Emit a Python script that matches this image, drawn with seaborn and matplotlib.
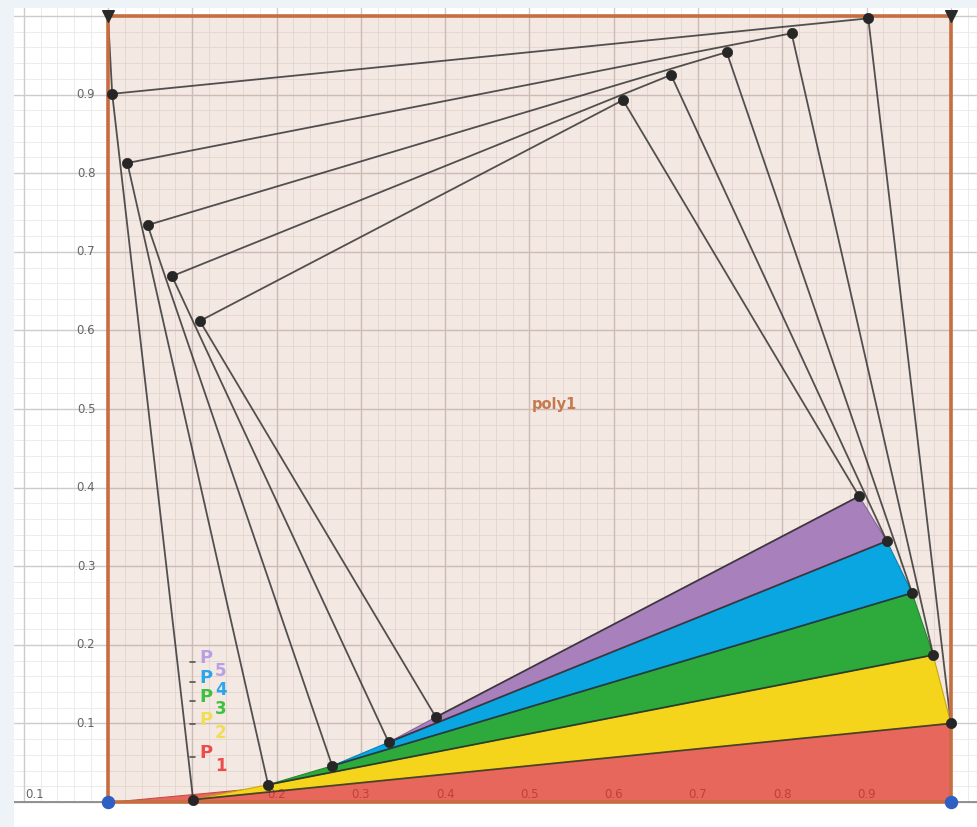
import matplotlib
matplotlib.use('Agg')
import numpy as np
import pandas as pd
import matplotlib.pyplot as plt
import seaborn as sns

sns.set_theme(style="white")
plt.rcParams['font.family'] = ['DejaVu Sans']

# outer square (poly1)
square_x = [0.0, 1.0, 1.0, 0.0]
square_y = [0.0, 0.0, 1.0, 1.0]

# vertices of the nested squares (k = 1..5)
bottom_x = [0.101, 0.190, 0.266, 0.333, 0.389]
bottom_y = [0.003, 0.022, 0.046, 0.076, 0.108]
right_x = [1.000, 0.979, 0.954, 0.924, 0.891]
right_y = [0.100, 0.187, 0.266, 0.332, 0.389]
top_x = [0.902, 0.811, 0.734, 0.668, 0.611]
top_y = [0.997, 0.978, 0.954, 0.925, 0.893]
left_x = [0.005, 0.023, 0.047, 0.076, 0.109]
left_y = [0.901, 0.813, 0.734, 0.669, 0.612]

band_names = ["P1", "P2", "P3", "P4", "P5"]
band_colors = ["#e8675c", "#f5d41c", "#2eaa3c", "#0aa6e2", "#a880bb"]
band_edges = ["#c05045", "#c9a612", "#23862f", "#0a82b2", "#85649a"]
label_colors = ["#ee4b4b", "#f1dc55", "#40c040", "#2ba6ea", "#b9a0e2"]

xtick_vals = [0.2, 0.3, 0.4, 0.5, 0.6, 0.7, 0.8, 0.9]
ytick_vals = [0.1, 0.2, 0.3, 0.4, 0.5, 0.6, 0.7, 0.8, 0.9]

fig = plt.figure(figsize=(9.77, 8.27), dpi=100, facecolor="#eef3f8")
ax = fig.add_axes([14 / 977, 0, 963 / 977, 819 / 827])
ax.set_facecolor("white")
ax.set_xlim(-0.1115, 1.031)
ax.set_ylim(-0.0318, 1.0102)
ax.set_xticks([])
ax.set_yticks([])
for sp in ax.spines.values():
    sp.set_visible(False)

# grid (only above the x axis)
for v in np.arange(-0.10, 1.04, 0.02):
    ax.plot([v, v], [0, 1.02], color="#ebe8e8", lw=0.6, zorder=0)
for v in np.arange(0.0, 1.02, 0.02):
    ax.plot([-0.112, 1.04], [v, v], color="#ebe8e8", lw=0.6, zorder=0)
for v in np.arange(-0.1, 1.04, 0.1):
    ax.plot([v, v], [0, 1.02], color="#d0cbcb", lw=1.0, zorder=0.1)
for v in np.arange(0.0, 1.02, 0.1):
    ax.plot([-0.112, 1.04], [v, v], color="#d0cbcb", lw=1.0, zorder=0.1)
ax.plot([-0.112, 1.04], [0, 0], color="#8a8a8a", lw=1.3, zorder=0.2)

# tick labels
for v in ytick_vals:
    ax.text(-0.015, v, f"{v:.1f}", ha="right", va="center", fontsize=8.5, color="#666666", zorder=0.3)
ax.text(-0.087, 0.009, "0.1", ha="center", va="center", fontsize=8.5, color="#666666", zorder=0.3)

# poly1 fill
ax.fill(square_x, square_y, color="#b87050", alpha=0.16, lw=0, zorder=0.5)

# coloured bands between successive squares, near the lower right corner
bx = [0.0] + bottom_x
by = [0.0] + bottom_y
rx = [1.0] + right_x
ry = [0.0] + right_y
for k in range(5):
    if k == 0:
        px = [bx[0], rx[0], rx[1]]
        py = [by[0], ry[0], ry[1]]
    else:
        px = [bx[k], rx[k], rx[k + 1], bx[k + 1]]
        py = [by[k], ry[k], ry[k + 1], by[k + 1]]
    ax.fill(px, py, facecolor=band_colors[k], edgecolor=band_edges[k], lw=0.8,
            zorder=2 + k * 0.01)

# x tick labels show through the red band
for v in xtick_vals:
    ax.text(v, 0.010, f"{v:.1f}", ha="center", va="center", fontsize=8.5, color="#b02e28",
            alpha=0.7, zorder=2.5)

# nested squares
for k in range(5):
    sx = [bottom_x[k], right_x[k], top_x[k], left_x[k], bottom_x[k]]
    sy = [bottom_y[k], right_y[k], top_y[k], left_y[k], bottom_y[k]]
    ax.plot(sx, sy, color="#2a2a2a", lw=1.3, alpha=0.8, zorder=3)
ax.plot([square_x[3], left_x[0]], [square_y[3], left_y[0]], color="#2a2a2a", lw=1.3,
        alpha=0.8, zorder=3)

# outer square edge
ax.plot(square_x + [square_x[0]], square_y + [square_y[0]], color="#c66d42", lw=2.6,
        solid_joinstyle="miter", zorder=3.5)

# points
pts = pd.DataFrame({
    "x": bottom_x + right_x + top_x + left_x,
    "y": bottom_y + right_y + top_y + left_y,
})
sns.scatterplot(data=pts, x="x", y="y", ax=ax, s=55, color="#262626", edgecolor="#262626",
                linewidth=0.5, zorder=5, legend=False)
ax.scatter([square_x[0], square_x[1]], [square_y[0], square_y[1]], s=75, color="#2f5fc2",
           zorder=5, clip_on=False)
ax.scatter([square_x[2], square_x[3]], [square_y[2], square_y[3]], s=70, marker="v",
           color="#2a2a2a", zorder=5, clip_on=False)

# labels
ax.text(0.53, 0.506, "poly1", ha="center", va="center", fontsize=10.5, fontweight="bold",
        color="#c47a4e", zorder=4)
label_y = [0.062, 0.104, 0.134, 0.158, 0.183]
for k in range(5):
    ax.text(0.116, label_y[k], "P", fontsize=13, fontweight="bold", color=label_colors[k],
            ha="center", va="center", zorder=4)
    ax.text(0.134, label_y[k] - 0.016, str(k + 1), fontsize=12, fontweight="bold",
            color=label_colors[k], ha="center", va="center", zorder=4)
    ax.plot([0.0975, 0.1035], [label_y[k] - 0.005, label_y[k] - 0.005], color="#555555",
            lw=1.2, zorder=4)

fig.savefig("out.png", dpi=100, facecolor=fig.get_facecolor())
